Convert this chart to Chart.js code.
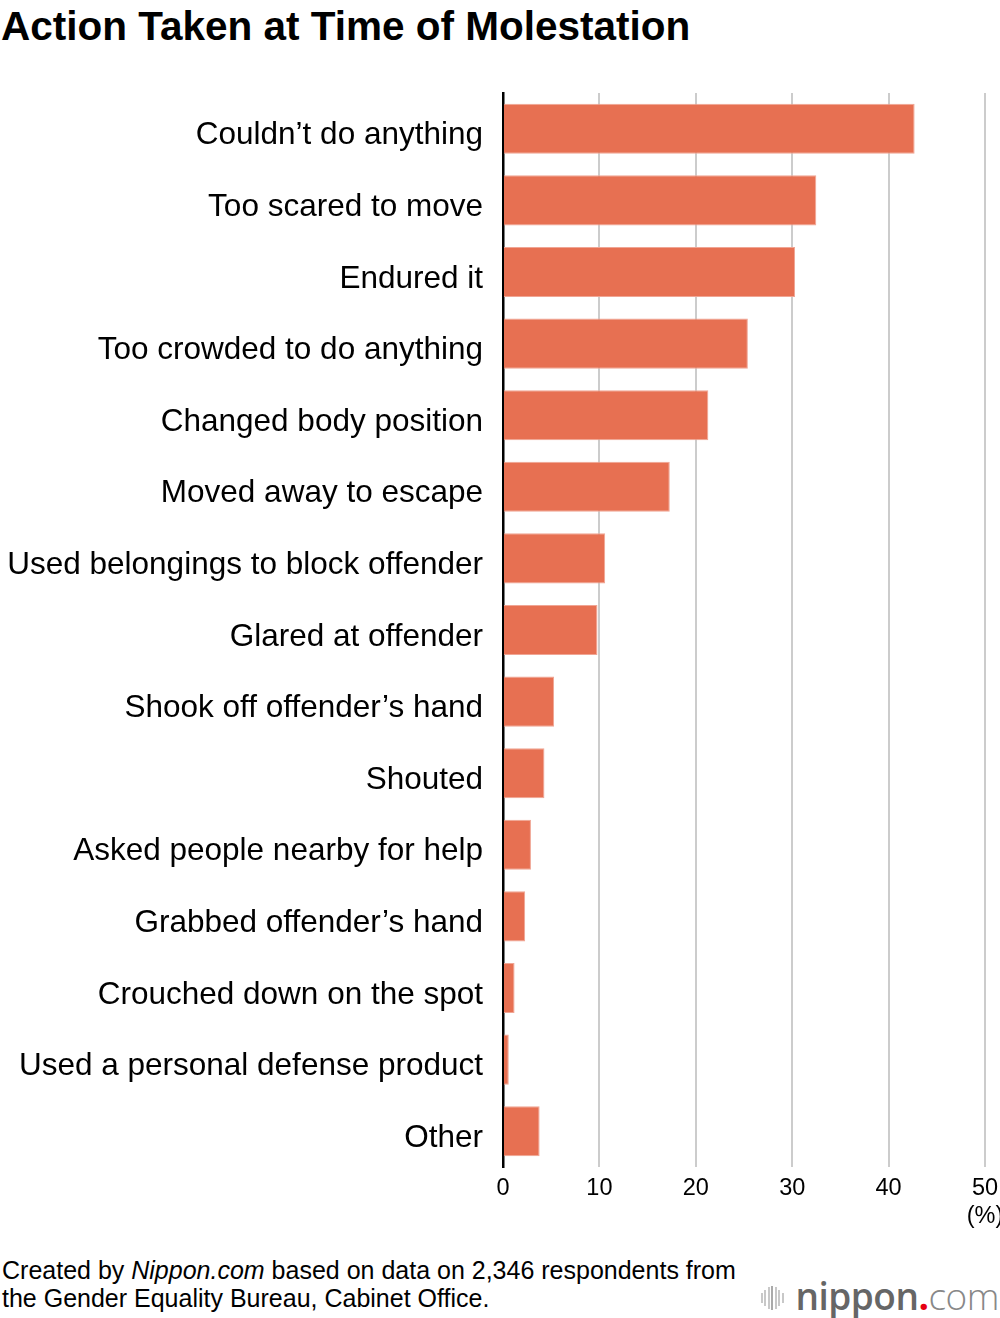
<!DOCTYPE html>
<html>
<head>
<meta charset="utf-8">
<script src="https://cdn.jsdelivr.net/npm/chart.js@4"></script>
<style>
   body { margin: 0; background: #fff; font-family: "Liberation Sans", Arial, sans-serif; }
   #page { position: relative; width: 1000px; height: 1318px; overflow: hidden; }
   #title { position: absolute; left: 1px; top: 3px; font-size: 40.5px; line-height: 46px; font-weight: bold; color: #000; }
   #chart-box { position: absolute; left: 0; top: 0; width: 1000px; height: 1240px; }
   #source { position: absolute; left: 2px; top: 1256px; font-size: 25px; line-height: 28px; color: #000; }
   #logo { position: absolute; right: 1px; top: 1274px; display: flex; align-items: center; font-family: "Open Sans", sans-serif; font-size: 37px; line-height: 44px; white-space: nowrap; letter-spacing: -0.5px; }
   #logo .bars { display: flex; align-items: center; margin-right: 10px; height: 26px; margin-top: 4px; }
   #logo .bars span { display: block; width: 2px; margin-right: 1.5px; background: #c8c8c8; }
   #logo .n { font-weight: 600; color: #666; }
   #logo .dot { font-weight: 700; color: #e60012; }
   #logo .com { font-weight: 300; color: #888; }
</style>
</head>
<body>
<div id="page">
   <div id="title">Action Taken at Time of Molestation</div>
   <div id="chart-box"><canvas id="chart"></canvas></div>
   <div id="source">Created by <i>Nippon.com</i> based on data on 2,346 respondents from<br>the Gender Equality Bureau, Cabinet Office.</div>
   <div id="logo"><span class="bars"><span style="height:10px"></span><span style="height:16px"></span><span style="height:22px"></span><span style="height:24px;background:#aaa"></span><span style="height:22px"></span><span style="height:16px"></span><span style="height:10px"></span></span><span class="n">nippon</span><span class="dot">.</span><span class="com">com</span></div>
</div>
<script>
const actions = [
   'Couldn\u2019t do anything',
   'Too scared to move',
   'Endured it',
   'Too crowded to do anything',
   'Changed body position',
   'Moved away to escape',
   'Used belongings to block offender',
   'Glared at offender',
   'Shook off offender\u2019s hand',
   'Shouted',
   'Asked people nearby for help',
   'Grabbed offender\u2019s hand',
   'Crouched down on the spot',
   'Used a personal defense product',
   'Other'
]
const shares = [42.7, 32.5, 30.3, 25.4, 21.3, 17.3, 10.6, 9.8, 5.3, 4.3, 2.9, 2.3, 1.2, 0.6, 3.8]
const xTicks = [0, 10, 20, 30, 40, 50]
const unitLabel = '(%)'

const chartE = document.getElementById('chart')

new Chart(chartE, {
   type: 'bar',
   data: {
      labels: actions,
      datasets: [{
         data: shares,
         backgroundColor: '#e77052',
         borderColor: '#f0a594',
         borderWidth: { top: 1, right: 1, bottom: 1, left: 0 },
         borderSkipped: 'start',
         categoryPercentage: 1,
         barPercentage: 0.7
      }]
   },
   options: {
      indexAxis: 'y',
      responsive: true,
      maintainAspectRatio: false,
      animation: false,
      layout: { padding: { top: 93, right: 0, bottom: 0, left: 0 } },
      plugins: {
         legend: { display: false },
         tooltip: { enabled: false }
      },
      scales: {
         x: {
            min: 0,
            max: 50,
            afterBuildTicks: (scale) => {
               scale.ticks = xTicks.map(v => ({ value: v }))
            },
            afterFit: (scale) => {
               scale.height = 73
               scale.paddingLeft = 0
               scale.paddingRight = 15
            },
            grid: { color: '#cccccc', lineWidth: 2, drawTicks: false },
            border: { display: false },
            ticks: {
               padding: 7,
               color: '#000',
               font: { family: 'Liberation Sans', size: 23.5 },
               maxRotation: 0,
               callback: (v) => v === 50 ? ['50', unitLabel] : String(v)
            }
         },
         y: {
            afterFit: (scale) => {
               scale.width = 503
            },
            grid: { display: false, drawTicks: false },
            border: { display: true, color: '#000', width: 2.5 },
            ticks: {
               padding: 20,
               labelOffset: 7,
               color: '#000',
               font: { family: 'Liberation Sans', size: 31.5 }
            }
         }
      }
   }
})
</script>
</body>
</html>
